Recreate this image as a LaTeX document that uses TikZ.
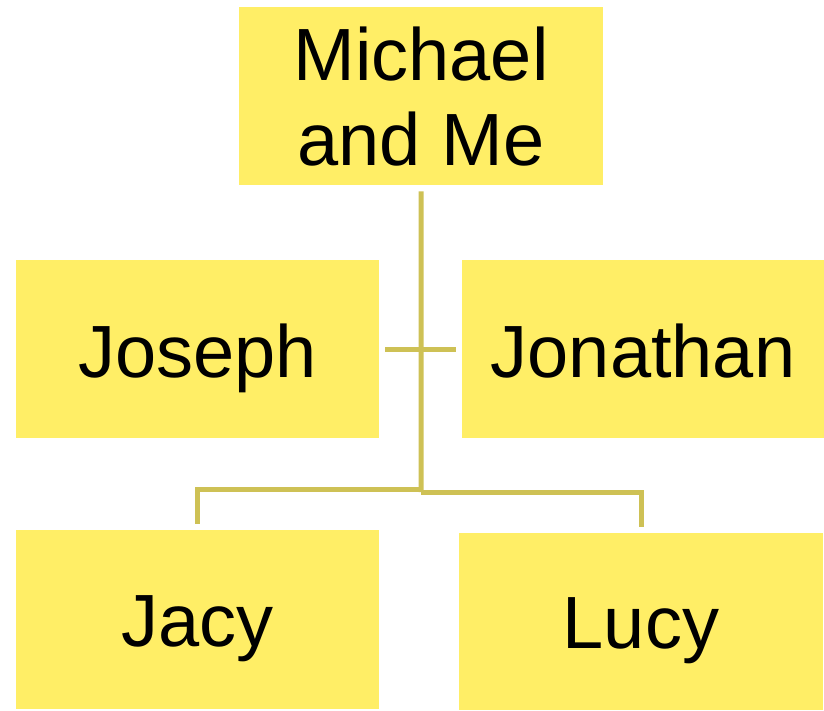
\documentclass[tikz,border=0pt]{standalone}
\usepackage{fontspec}
\setmainfont{Liberation Sans}
\usetikzlibrary{calc}
\definecolor{boxfill}{HTML}{FFEE66}
\definecolor{linkcol}{HTML}{CEC155}
\begin{document}
\begin{tikzpicture}[x=1pt,y=-1pt,
  box/.style={rectangle, fill=boxfill, draw=none, inner sep=0pt, anchor=north west},
  txt/.style={font=\fontsize{74}{85}\selectfont, inner sep=0pt, anchor=base, text=black},
  link/.style={draw=linkcol, line width=5pt}]
\useasboundingbox (0,0) rectangle (824,710);
% boxes
\node[box, minimum width=364pt, minimum height=178pt] (m)  at (239,7)   {};
\node[box, minimum width=363pt, minimum height=178pt] (jo) at (16,260)  {};
\node[box, minimum width=362pt, minimum height=178pt] (jn) at (462,260) {};
\node[box, minimum width=363pt, minimum height=179pt] (ja) at (16,530)  {};
\node[box, minimum width=364pt, minimum height=177pt] (lu) at (459,533) {};
% texts
\node[txt] (t1a) at (421,80)  {Michael};
\node[txt] (t1b) at (421,165) {and Me};
\node[txt] (t2)  at (197.5,377) {Joseph};
\node[txt] (t3)  at (643,377) {Jonathan};
\node[txt] (t4)  at (197.5,646) {Jacy};
\node[txt] (t5)  at (641,648) {Lucy};
% connectors
\coordinate (hubL) at (421,489);
\coordinate (hubR) at (421,492);
\draw[link] ($(m.south)+(0,6)$) -- (hubR);
\draw[link] ($(jo.east)+(6,0)$) -- ($(jn.west)+(-6,0)$);
\draw[link] (hubL) -| ($(ja.north)+(0,-6)$);
\draw[link] (hubR) -| ($(lu.north)+(0,-6)$);
\end{tikzpicture}
\end{document}
